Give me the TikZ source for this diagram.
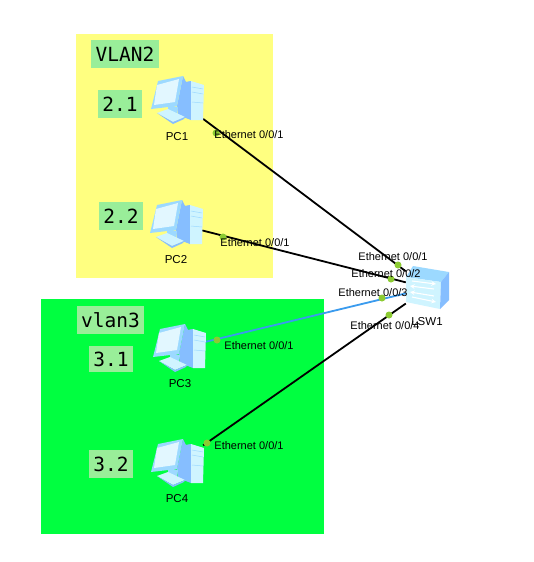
\documentclass[tikz,border=0pt]{standalone}
\usepackage{fontspec}
\setmainfont{Liberation Sans}
\newfontfamily\vlanfont{DejaVu Sans Mono}
\usepackage{xcolor}
\usetikzlibrary{positioning}
\definecolor{ZoneYellow}{HTML}{FFFF80}
\definecolor{ZoneGreen}{HTML}{00FF40}
\definecolor{TagGreen}{HTML}{99EE99}
\definecolor{LinkBlue}{HTML}{3A9BEE}
\definecolor{PortGreen}{HTML}{8CCB32}
\definecolor{IconDark}{HTML}{86BEFF}
\definecolor{IconMid}{HTML}{9CD9FF}
\definecolor{IconLight}{HTML}{CFF4FF}
\definecolor{IconPale}{HTML}{E2F7FF}
\tikzset{
  zone/.style={inner sep=0pt,outer sep=0pt},
  tag/.style={fill=TagGreen,inner sep=0pt,outer sep=0pt,font=\vlanfont\fontsize{19.5}{20}\selectfont},
  device/.style={inner sep=0pt,minimum width=50pt,minimum height=50pt},
  devlabel/.style={inner sep=0pt,font=\fontsize{11.5}{12}\selectfont},
  portlabel/.style={inner sep=0pt,font=\fontsize{11}{11}\selectfont},
  link/.style={line width=1.8pt,black},
  port/.style={circle,fill=PortGreen,inner sep=0pt,minimum size=7pt},
  pcicon/.pic={
    \fill[IconDark] (7,-18) -- (13,-19) -- (13,20) -- (0,15) -- (-1,6) -- cycle;
    \fill[IconLight] (13,-19) -- (26,-15) -- (25,20) -- (13,20) -- cycle;
    \draw[IconMid,line width=.5pt] (14,-13) -- (25,-11) (14,-8) -- (25,-6) (14,2) -- (25,3);
    \fill[IconMid] (-10,5) -- (0,7) -- (-1,15) -- (-10,11) -- cycle;
    \fill[IconLight] (-21,13) -- (-10,9) -- (7,17) -- (-5,22) -- cycle;
    \fill[IconDark] (-21,13) -- (-5,22) -- (7,17) -- (6,19) -- (-5,24) -- cycle;
    \fill[IconDark] (5,-24) -- (8,-18) -- (2,5) -- (-1,6) -- cycle;
    \fill[IconMid] (-20,-19) -- (5,-24) -- (-1,6) -- (-27,9) -- cycle;
    \fill[IconPale] (-21,-15) -- (1,-21) -- (-3,2) -- (-24,5) -- cycle;
  },
  switchicon/.pic={
    \fill[IconMid] (-22,-11) -- (-15,-22) -- (21,-16) -- (13,-6) -- cycle;
    \fill[IconLight] (-22,-11) -- (13,-6) -- (12,21) -- (-22,14) -- cycle;
    \fill[IconDark] (13,-6) -- (21,-16) -- (21,12) -- (12,21) -- cycle;
    \draw[white,line width=1.1pt,-stealth] (-16,-7) -- (8,-4);
    \draw[white,line width=1.1pt,stealth-] (-18,-2) -- (6,1);
    \draw[white,line width=1.1pt,stealth-] (-18,4) -- (6,8);
    \draw[white,line width=1.1pt,-stealth] (-16,9) -- (8,14);
  }
}

\begin{document}
\begin{tikzpicture}[x=1pt,y=-1pt]
  \useasboundingbox (0,0) rectangle (533,562);
  \fill[white] (0,0) rectangle (533,562);

  \node[zone,fill=ZoneYellow,minimum width=197pt,minimum height=244pt] (vlan2zone) at (174.5,156) {};
  \node[zone,fill=ZoneGreen,minimum width=283pt,minimum height=235pt] (vlan3zone) at (182.5,416.5) {};

  \node[tag,minimum width=68pt,minimum height=28pt] (vlan2) at (125,54) {VLAN2};
  \node[tag,minimum width=44pt,minimum height=28pt] (net21) at (120,104) {2.1};
  \node[tag,minimum width=44pt,minimum height=28pt] (net22) at (121,216) {2.2};
  \node[tag,minimum width=67pt,minimum height=28pt] (vlan3) at (110.5,320) {vlan3};
  \node[tag,minimum width=44pt,minimum height=26pt] (net31) at (111,359) {3.1};
  \node[tag,minimum width=44pt,minimum height=28pt] (net32) at (111,464) {3.2};

  \node[device] (pc1) at (178,100) {};
  \node[device] (pc2) at (177,224) {};
  \node[device] (pc3) at (180,348) {};
  \node[device] (pc4) at (178,463) {};
  \node[inner sep=0pt,minimum width=44pt,minimum height=42pt] (lsw1) at (428,288) {};

  \draw[link] (pc1) -- (lsw1);
  \draw[link] (pc2) -- (lsw1);
  \draw[link,LinkBlue] (pc3) -- (lsw1);
  \draw[link] (pc4) -- (lsw1);

  \node[port] (p1a) at (216,133) {};
  \node[port] (p2a) at (223,237) {};
  \node[port] (p3a) at (217,340) {};
  \node[port] (p4a) at (207,443) {};
  \node[port] (p1b) at (398,265) {};
  \node[port] (p2b) at (391,279) {};
  \node[port] (p3b) at (382,298) {};
  \node[port] (p4b) at (389,315) {};

  \pic at (pc1) {pcicon};
  \pic at (pc2) {pcicon};
  \pic at (pc3) {pcicon};
  \pic at (pc4) {pcicon};
  \pic at (lsw1) {switchicon};

  \node[devlabel] (pc1label) at (177,137) {PC1};
  \node[devlabel] (pc2label) at (176,260) {PC2};
  \node[devlabel] (pc3label) at (180,384) {PC3};
  \node[devlabel] (pc4label) at (177,499) {PC4};
  \node[devlabel] (lsw1label) at (427,322) {LSW1};

  \node[portlabel] (e1a) at (249,135) {Ethernet 0/0/1};
  \node[portlabel] (e2a) at (255,243) {Ethernet 0/0/1};
  \node[portlabel] (e3a) at (259,346) {Ethernet 0/0/1};
  \node[portlabel] (e4a) at (249,446) {Ethernet 0/0/1};
  \node[portlabel] (e1b) at (393,257) {Ethernet 0/0/1};
  \node[portlabel] (e2b) at (386,274) {Ethernet 0/0/2};
  \node[portlabel] (e3b) at (373,293) {Ethernet 0/0/3};
  \node[portlabel] (e4b) at (385,326) {Ethernet 0/0/4};
\end{tikzpicture}
\end{document}
